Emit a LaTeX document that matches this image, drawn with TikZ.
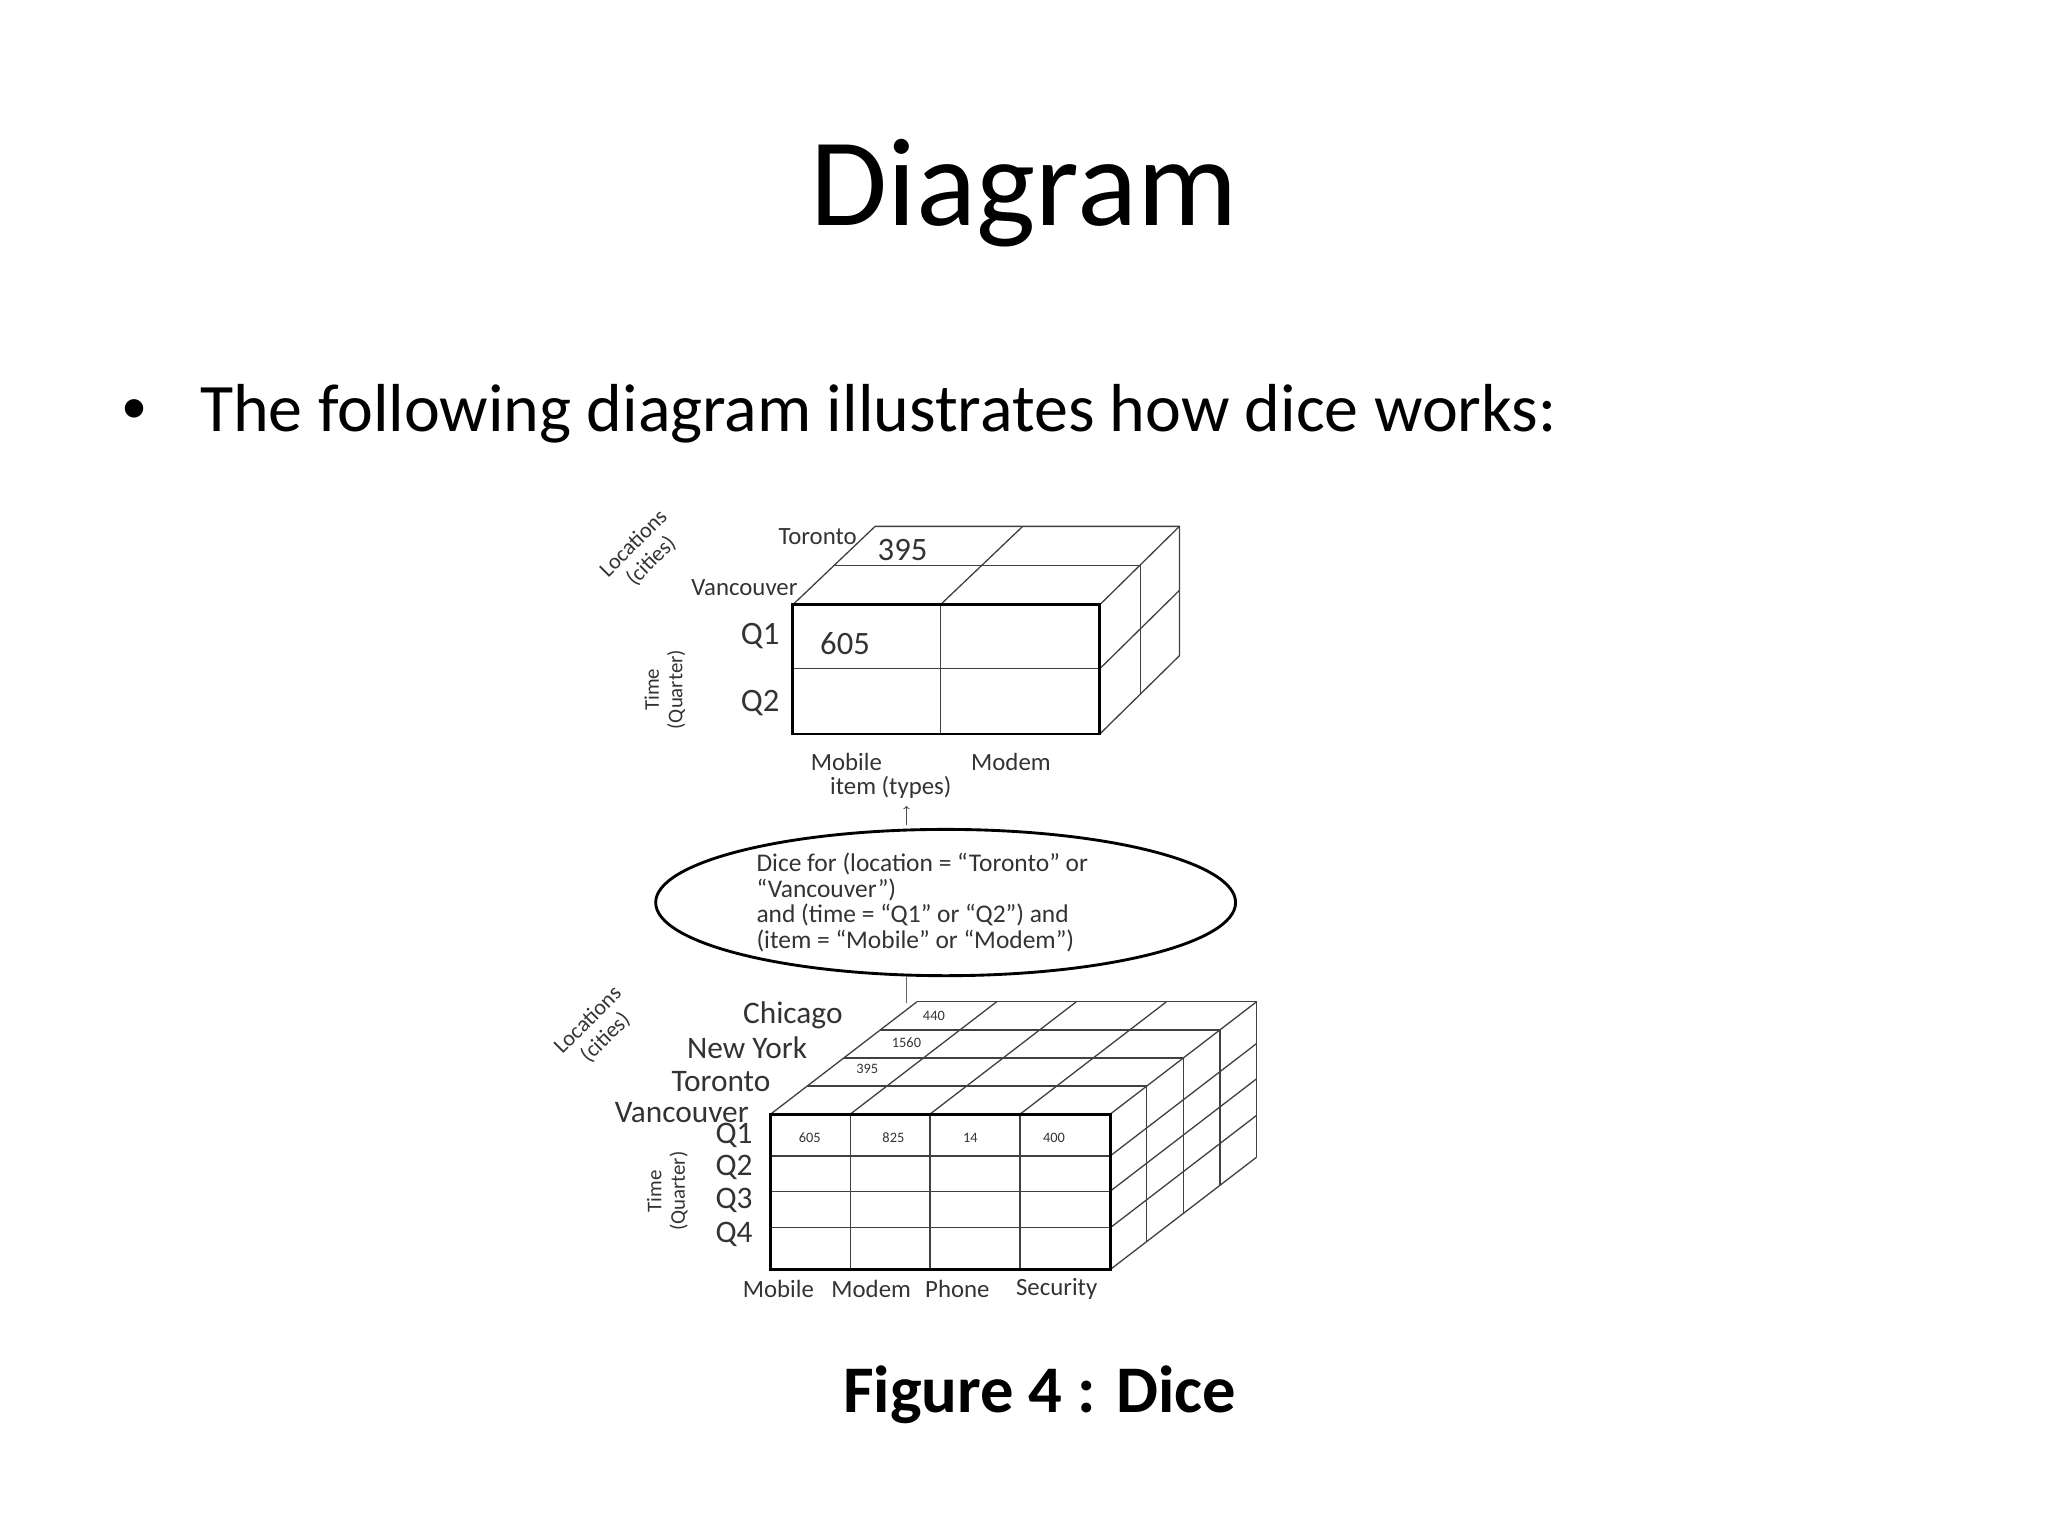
\documentclass[tikz,border=0pt]{standalone}
\usepackage{fontspec}
\setmainfont{Carlito}
\usetikzlibrary{shapes.geometric}
\begin{document}
\begin{tikzpicture}[x=1pt,y=-1pt,
 lbl/.style={text=black!80,inner sep=0pt},
 grid/.style={draw=black!75,line width=1pt},
 front/.style={draw=black,line width=2.2pt}]
\useasboundingbox (0,0) rectangle (1568,1176);
\node[inner sep=0] (title) at (784,148) {\fontsize{96}{110}\selectfont Diagram};
\node[inner sep=0] (bul) at (103,315) {\fontsize{40}{60}\selectfont •};
\node[inner sep=0,anchor=west] (intro) at (153,317) {\fontsize{52}{60}\selectfont The following diagram illustrates how dice works:};
% ---- top cube
\begin{scope}[grid]
\draw (607,463) -- (670,403) -- (903,403) -- (903,502) -- (842,562);
\draw (842,463) -- (903,403);
\draw (720,463) -- (783,403);
\draw (638,433) -- (873,433) -- (873,532);
\draw (842,512) -- (903,452);
\draw (720,463) -- (720,562);
\draw (607,512) -- (842,512);
\end{scope}
\draw[front] (607,463) rectangle (842,562);
\node[lbl] (t1) at (626,411) {\fontsize{19}{20}\selectfont Toronto};
\node[lbl] (t2) at (570,450) {\fontsize{19}{20}\selectfont Vancouver};
\node[lbl] (t3) at (691,421) {\fontsize{25}{26}\selectfont 395};
\node[lbl] (t4) at (647,493) {\fontsize{25}{26}\selectfont 605};
\node[lbl] (t5) at (582,487) {\fontsize{25}{26}\selectfont Q1};
\node[lbl] (t6) at (582,538) {\fontsize{25}{26}\selectfont Q2};
\node[lbl] (t7) at (648,583) {\fontsize{19}{20}\selectfont Mobile};
\node[lbl] (t8) at (774,583) {\fontsize{19}{20}\selectfont Modem};
\node[lbl] (t9) at (682,603) {\fontsize{19}{20}\selectfont item (types)};
\node[lbl,rotate=45,align=center,font=\fontsize{17}{19}\selectfont] (t10) at (492,423) {Locations\\(cities)};
\node[lbl,rotate=90,align=center,font=\fontsize{16}{18}\selectfont] (t11) at (509,528) {Time\\(Quarter)};
% ---- ellipse
\node[draw,line width=2.2pt,ellipse,minimum width=444pt,minimum height=112pt,inner sep=0] (ell) at (724,691) {};
\node[lbl,anchor=west,align=left,font=\fontsize{19.5}{19.7}\selectfont] (et) at (579,691) {Dice for (location = “Toronto” or\\“Vancouver”)\\and (time = “Q1” or “Q2”) and\\(item = “Mobile” or “Modem”)};
\coordinate (a1) at (694,632);
\coordinate (a2) at (694,617);
\draw[->,black!70,line width=0.8pt] (a1) -- (a2);
\coordinate (b1) at (694,747);
\coordinate (b2) at (694,768);
\draw[black!60,line width=1pt] (b1) -- (b2);
% ---- bottom cube
\begin{scope}[grid]
\foreach \k in {1,2,3,4}{
  \draw (590+28*\k,853-21.5*\k) -- (850+28*\k,853-21.5*\k) -- (850+28*\k,972-21.5*\k);
}
\foreach \x in {590,651,712,781,850}{
  \draw (\x,853) -- (\x+112,767);
}
\foreach \y in {885,912,940,972}{
  \draw (850,\y) -- (962,\y-86);
}
\foreach \x in {651,712,781}{\draw (\x,853) -- (\x,972);}
\foreach \y in {885,912,940}{\draw (590,\y) -- (850,\y);}
\end{scope}
\draw[front] (590,853) rectangle (850,972);
\node[lbl] (c1) at (715,778) {\fontsize{11}{12}\selectfont 440};
\node[lbl] (c2) at (694,798) {\fontsize{11}{12}\selectfont 1560};
\node[lbl] (c3) at (664,818) {\fontsize{11}{12}\selectfont 395};
\node[lbl] (v1) at (620,871) {\fontsize{11}{12}\selectfont 605};
\node[lbl] (v2) at (684,871) {\fontsize{11}{12}\selectfont 825};
\node[lbl] (v3) at (743,871) {\fontsize{11}{12}\selectfont 14};
\node[lbl] (v4) at (807,871) {\fontsize{11}{12}\selectfont 400};
\node[lbl] (l1) at (607,777) {\fontsize{24}{25}\selectfont Chicago};
\node[lbl] (l2) at (572,802) {\fontsize{24}{25}\selectfont New York};
\node[lbl] (l3) at (552,828) {\fontsize{24}{25}\selectfont Toronto};
\node[lbl] (l4) at (522,852) {\fontsize{24}{25}\selectfont Vancouver};
\node[lbl] (q1) at (562,869) {\fontsize{24}{25}\selectfont Q1};
\node[lbl] (q2) at (562,894) {\fontsize{24}{25}\selectfont Q2};
\node[lbl] (q3) at (562,919) {\fontsize{24}{25}\selectfont Q3};
\node[lbl] (q4) at (562,945) {\fontsize{24}{25}\selectfont Q4};
\node[lbl,rotate=90,align=center,font=\fontsize{16}{18}\selectfont] (tq) at (511,912) {Time\\(Quarter)};
\node[lbl,rotate=45,align=center,font=\fontsize{17}{19}\selectfont] (lc) at (457,788) {Locations\\(cities)};
\node[lbl] (m1) at (596,987) {\fontsize{19}{20}\selectfont Mobile};
\node[lbl] (m2) at (667,987) {\fontsize{19}{20}\selectfont Modem};
\node[lbl] (m3) at (733,987) {\fontsize{19}{20}\selectfont Phone};
\node[lbl] (m4) at (809,987) {\fontsize{19}{20}\selectfont Security};
\node[inner sep=0] (fig) at (796,1068) {\fontsize{51}{60}\selectfont\bfseries Figure 4 : Dice};
\end{tikzpicture}
\end{document}
